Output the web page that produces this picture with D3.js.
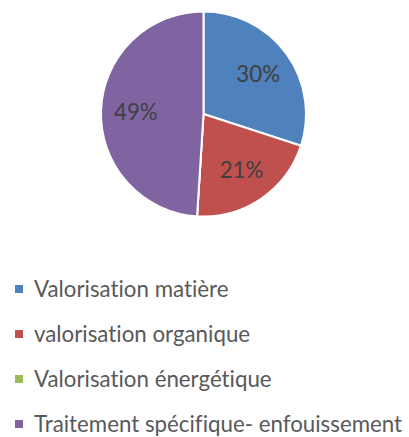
<!DOCTYPE html>
<html>
<head>
<meta charset="utf-8">
<script src="https://cdn.jsdelivr.net/npm/d3@7"></script>
<style>
  body { margin: 0; background: #fff; }
  svg { display: block; }
  text { font-variant-ligatures: none; font-feature-settings: "liga" 0, "dlig" 0; }
</style>
</head>
<body>
<div id="chart"></div>
<script>
// données du graphique (en %)
const categories = ["Valorisation matière", "valorisation organique", "Valorisation énergétique", "Traitement spécifique- enfouissement"];
const values = [30, 21, 0, 49];
const colors = ["#4F81BD", "#C0504D", "#9BBB59", "#8064A2"];

const width = 409, height = 437;
const cx = 203.5, cy = 114, radius = 102.5;
const fontFam = "Lato, 'Open Sans', sans-serif";
const fontSize = 22.3;

const svg = d3.select("#chart")
    .append("svg")
    .attr("width", width)
    .attr("height", height);

const pie = d3.pie().sort(null).value(d => d.value);
const data = categories.map((c, i) => ({ name: c, value: values[i], color: colors[i] }));
const arcs = pie(data);

const arc = d3.arc().innerRadius(0).outerRadius(radius);
const labelArc = d3.arc().innerRadius(radius * 0.66).outerRadius(radius * 0.66);

const g = svg.append("g").attr("transform", `translate(${cx},${cy})`);

g.selectAll("path")
    .data(arcs)
    .enter().append("path")
    .attr("d", arc)
    .attr("fill", d => d.data.color)
    .attr("stroke", "#fff")
    .attr("stroke-width", 2)
    .attr("stroke-linejoin", "round");

g.selectAll(".lbl")
    .data(arcs.filter(d => d.data.value > 0))
    .enter().append("text")
    .attr("class", "lbl")
    .attr("transform", d => `translate(${labelArc.centroid(d)})`)
    .attr("text-anchor", "middle")
    .attr("dy", "0.36em")
    .attr("font-family", fontFam)
    .attr("font-size", fontSize)
    .attr("fill", "#404040")
    .text(d => d.data.value + "%");

// légende
const legend = svg.append("g");
const row = legend.selectAll("g")
    .data(data)
    .enter().append("g")
    .attr("transform", (d, i) => `translate(15, ${289 + i * 45})`);

row.append("rect")
    .attr("x", 0)
    .attr("y", -4)
    .attr("width", 8)
    .attr("height", 8)
    .attr("fill", d => d.color);

row.append("text")
    .attr("x", 19)
    .attr("y", 8)
    .attr("font-family", fontFam)
    .attr("font-size", fontSize)
    .attr("fill", "#595959")
    .text(d => d.name);
</script>
</body>
</html>
